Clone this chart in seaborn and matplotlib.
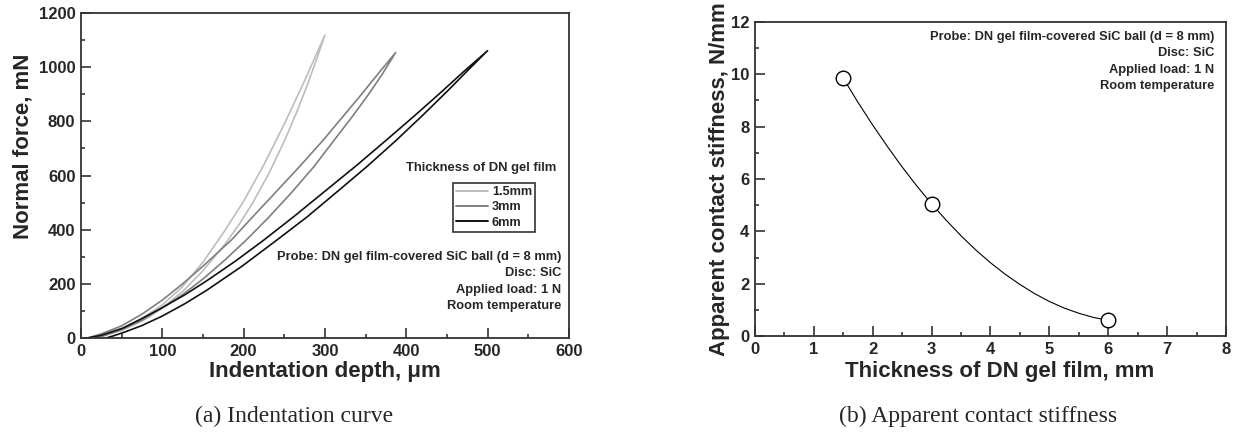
import numpy as np
import pandas as pd
import matplotlib
matplotlib.use("Agg")
import matplotlib.pyplot as plt
from matplotlib.ticker import MultipleLocator
import seaborn as sns

# ── (a) indentation loops: loading branch then unloading branch ──────────────
films = ["1.5mm", "3mm", "6mm"]

depth_15 = [8, 25, 50, 75, 100, 125, 150, 175, 200, 225, 250, 275, 300,
            290, 278, 265, 252, 232, 211, 195, 178, 150, 125, 100, 75, 50, 25, 20]
force_15 = [0, 9, 35, 72, 122, 190, 280, 388, 505, 640, 790, 950, 1119,
            1031, 932, 832, 740, 613, 498, 422, 350, 248, 172, 110, 62, 28, 6, 0]

depth_3 = [8, 25, 50, 75, 100, 125, 150, 185, 212, 240, 270, 298, 345, 366, 387,
           370, 353, 334, 313, 286, 258, 231, 204, 177, 150, 125, 100, 75, 50,
           30, 18]
force_3 = [0, 15, 45, 88, 140, 200, 265, 362, 450, 540, 637, 731, 900, 978, 1054,
           972, 897, 819, 737, 631, 534, 446, 364, 288, 218, 160, 112, 66, 31,
           10, 0]

depth_6 = [8, 25, 52, 75, 100, 128, 156, 190, 225, 262, 300, 338, 376, 408, 440,
           470, 500,
           475, 450, 419, 388, 352, 315, 278, 241, 198, 156, 128, 100, 75, 52,
           40, 31]
force_6 = [0, 10, 37, 72, 112, 160, 214, 284, 362, 449, 542, 635, 732, 815, 900,
           982, 1061,
           986, 910, 819, 731, 634, 540, 447, 362, 265, 179, 127, 81, 46, 20,
           8, 0]

# ── (b) apparent contact stiffness ───────────────────────────────────────────
thickness = [1.5, 3.0, 6.0]
stiffness = [9.85, 5.05, 0.60]

# trend curve
curve_x = [1.5, 1.75, 2.0, 2.25, 2.5, 2.75, 3.0, 3.25, 3.5, 3.75, 4.0,
           4.25, 4.5, 4.75, 5.0, 5.25, 5.5, 5.75, 6.0]
curve_y = [9.85, 8.93, 8.06, 7.24, 6.46, 5.73, 5.05, 4.42, 3.83, 3.29, 2.80,
           2.36, 1.97, 1.62, 1.32, 1.07, 0.87, 0.71, 0.60]

note_lines = ["Probe: DN gel film-covered SiC ball (d = 8 mm)",
              "Disc: SiC", "Applied load: 1 N", "Room temperature"]

# ── style ────────────────────────────────────────────────────────────────────
sns.set_style("ticks")
plt.rcParams["font.family"] = ["Liberation Sans", "DejaVu Sans"]
plt.rcParams["font.weight"] = "bold"
plt.rcParams["axes.labelweight"] = "bold"
SPINE = "#333333"

loops = pd.concat([
    pd.DataFrame({"depth": d, "force": f, "film": name})
    for d, f, name in [(depth_15, force_15, "1.5mm"),
                       (depth_3, force_3, "3mm"),
                       (depth_6, force_6, "6mm")]
], ignore_index=True)
palette = {"1.5mm": "#bdbdbd", "3mm": "#7f7f7f", "6mm": "#111111"}

fig = plt.figure(figsize=(12.36, 4.32), dpi=100)
ax1 = fig.add_axes([0.0655, 0.2176, 0.3948, 0.7523])
ax2 = fig.add_axes([0.6108, 0.2222, 0.3811, 0.7269])


def style_axes(ax):
    for sp in ax.spines.values():
        sp.set_color(SPINE)
        sp.set_linewidth(1.3)
    ax.tick_params(which="both", direction="in", top=False, right=False,
                   color=SPINE, width=1.2, labelsize=12, pad=4)
    ax.tick_params(which="major", length=7)
    ax.tick_params(which="minor", length=3)


# ── panel (a) ────────────────────────────────────────────────────────────────
sns.lineplot(data=loops, x="depth", y="force", hue="film", hue_order=films,
             palette=palette, sort=False, estimator=None, linewidth=1.2, ax=ax1)
ax1.set_xlim(0, 600)
ax1.set_ylim(0, 1200)
ax1.xaxis.set_major_locator(MultipleLocator(100))
ax1.xaxis.set_minor_locator(MultipleLocator(50))
ax1.yaxis.set_major_locator(MultipleLocator(200))
ax1.yaxis.set_minor_locator(MultipleLocator(100))
style_axes(ax1)
ax1.set_xlabel("Indentation depth, \u03bcm", fontsize=16, labelpad=2)
ax1.set_ylabel("Normal force, mN", fontsize=16)
ax1.yaxis.set_label_coords(-0.098, 0.59)

handles, labels = ax1.get_legend_handles_labels()
for h in handles:
    h.set_linewidth(1.4)
leg = ax1.legend(handles, labels, loc="upper left",
                 bbox_to_anchor=(0.762, 0.477), frameon=True, fancybox=False,
                 fontsize=9.2, handlelength=2.5, handletextpad=0.3,
                 labelspacing=0.25, borderpad=0.25, borderaxespad=0)
leg.get_frame().set_edgecolor(SPINE)
leg.get_frame().set_linewidth(1.2)
leg.get_frame().set_alpha(1)
ax1.text(0.82, 0.523, "Thickness of DN gel film", transform=ax1.transAxes,
         ha="center", va="center", fontsize=9.4)

for i, line in enumerate(note_lines):
    ax1.text(0.985, 0.248 - i * 0.0495, line, transform=ax1.transAxes,
             ha="right", va="center", fontsize=9.3)

# ── panel (b) ────────────────────────────────────────────────────────────────
sns.lineplot(x=curve_x, y=curve_y, color="black", linewidth=0.8,
             sort=False, estimator=None, ax=ax2, zorder=2)
sns.scatterplot(x=thickness, y=stiffness, marker="o", s=110,
                facecolor="white", edgecolor="black", linewidth=1.0,
                ax=ax2, zorder=3)
ax2.set_xlim(0, 8)
ax2.set_ylim(0, 12)
ax2.xaxis.set_major_locator(MultipleLocator(1))
ax2.xaxis.set_minor_locator(MultipleLocator(0.5))
ax2.yaxis.set_major_locator(MultipleLocator(2))
ax2.yaxis.set_minor_locator(MultipleLocator(1))
style_axes(ax2)
ax2.set_xlabel("Thickness of DN gel film, mm", fontsize=16)
ax2.set_ylabel("Apparent contact stiffness, N/mm", fontsize=16, labelpad=1)
ax2.xaxis.set_label_coords(0.52, -0.08)

for i, line in enumerate(note_lines):
    ax2.text(0.9745, 0.951 - i * 0.0513, line, transform=ax2.transAxes,
             ha="right", va="center", fontsize=9.3)

# ── captions ─────────────────────────────────────────────────────────────────
fig.text(0.238, 0.037, "(a) Indentation curve", ha="center", va="center",
         fontsize=17, fontweight="normal", family="Liberation Serif")
fig.text(0.791, 0.037, "(b) Apparent contact stiffness", ha="center",
         va="center", fontsize=17, fontweight="normal",
         family="Liberation Serif")

fig.savefig("out.png", dpi=100)
